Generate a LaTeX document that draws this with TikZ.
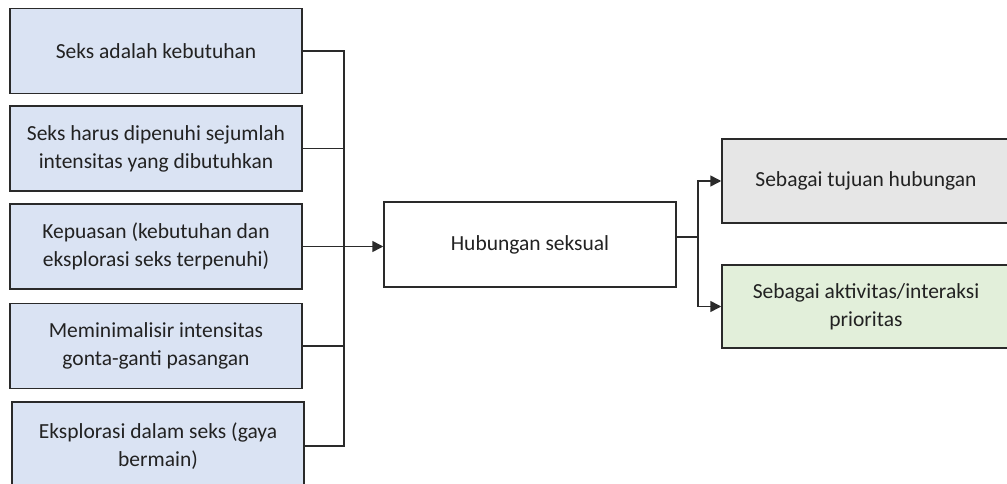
\documentclass[tikz,border=0pt]{standalone}
\usepackage{fontspec}
\setmainfont{Carlito}
\usetikzlibrary{arrows.meta}
\definecolor{bluefill}{HTML}{DAE3F3}
\definecolor{grayfill}{HTML}{E6E6E6}
\definecolor{greenfill}{HTML}{E2EFDA}
\definecolor{edge}{HTML}{2A2A2A}
\definecolor{ink}{HTML}{222222}
\tikzset{
  box/.style={draw=edge, line width=1.5pt, minimum width=292pt, minimum height=85pt,
    align=center, inner sep=0pt, text=ink,
    font=\fontsize{21.5}{28}\selectfont},
  leftbox/.style={box, fill=bluefill},
  link/.style={draw=edge, line width=1.5pt},
  arr/.style={link, -{Triangle[length=11pt,width=11pt]}}
}
\begin{document}
\begin{tikzpicture}[x=1pt, y=-1pt]
\clip (0,0) rectangle (1007,484);
\fill[white] (0,0) rectangle (1007,484);

% source boxes
\node[leftbox] (b1) at (156,51)    {Seks adalah kebutuhan};
\node[leftbox] (b2) at (156,148.5) {Seks harus dipenuhi sejumlah\\intensitas yang dibutuhkan};
\node[leftbox] (b3) at (156,246.5) {Kepuasan (kebutuhan dan\\eksplorasi seks terpenuhi)};
\node[leftbox] (b4) at (156,346)   {Meminimalisir intensitas\\gonta-ganti pasangan};
\node[leftbox, minimum height=88pt] (b5) at (158,446) {Eksplorasi dalam seks (gaya\\bermain)};

% central box
\node[box, fill=white] (mid) at (530,244.5) {Hubungan seksual};

% outcome boxes
\node[box, fill=grayfill, minimum width=288pt, minimum height=84pt] (r1) at (866,181) {Sebagai tujuan hubungan};
\node[box, fill=greenfill, minimum width=288pt, minimum height=83pt] (r2) at (866,306.5) {Sebagai aktivitas/interaksi\\prioritas};

% collecting bus on the left
\coordinate (bus) at (344,0);
\draw[link] (b1.east) -- (b1.east -| bus) -- (b5.east -| bus) -- (b5.east);
\draw[link] (b2.east) -- (b2.east -| bus);
\draw[link] (b4.east) -- (b4.east -| bus);
\draw[arr] (b3.east) -- (b3.east -| mid.west);

% branching to the outcomes
\coordinate (fork) at (698,237);
\draw[link] (mid.east |- fork) -- (fork);
\draw[arr] (fork) |- (r1.west);
\draw[arr] (fork) |- (r2.west);
\end{tikzpicture}
\end{document}
